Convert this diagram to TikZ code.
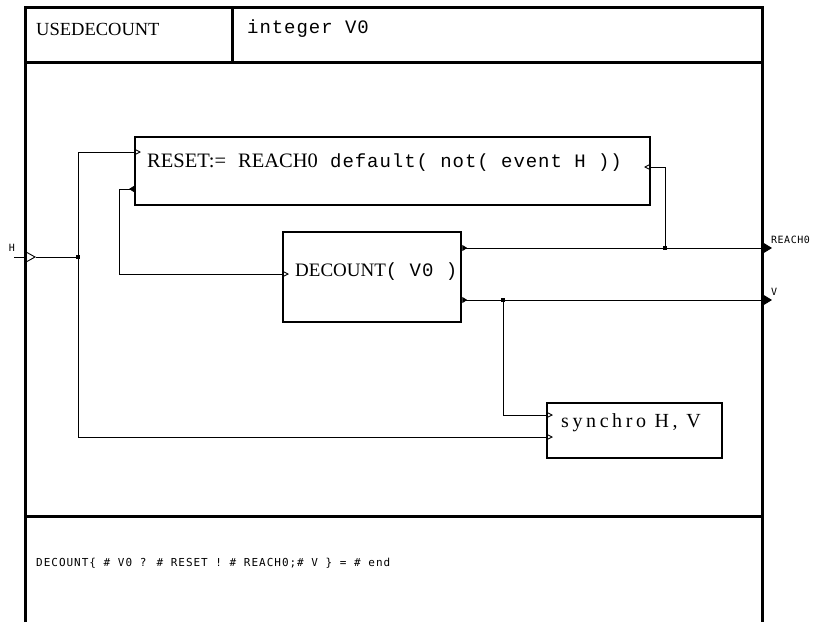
\documentclass[tikz,border=0pt]{standalone}
\usepackage{fontspec}
\setmainfont{Liberation Serif}
\newfontfamily\codefont[LetterSpace=5]{Liberation Mono}
\newfontfamily\wideserif[LetterSpace=18]{Liberation Serif}
\newfontfamily\pinfont[LetterSpace=5]{DejaVu Sans Mono}
\newfontfamily\ifacefont[LetterSpace=9]{DejaVu Sans Mono}
\usetikzlibrary{arrows.meta}
\tikzset{
    frame/.style={line width=3pt},
    block/.style={draw, line width=2.5pt, inner sep=0pt},
    txt/.style={anchor=west, inner sep=0pt},
    wire/.style={line width=0.9pt},
    dot/.style={fill, inner sep=0pt, minimum size=3.5pt},
    sig/.style={wire, -{Triangle[open, length=6pt, width=6pt]}},
    emit/.style={wire, {Triangle[reversed, length=5pt, width=6pt]}-{Triangle[length=10pt, width=12pt]}},
    loop/.style={wire, {Triangle[reversed, length=5pt, width=6pt]}-{Triangle[open, length=6pt, width=6pt]}},
}
\begin{document}
\begin{tikzpicture}[x=1pt, y=-1pt]
    \useasboundingbox (0,0) rectangle (814,622);
    \draw[frame] (25,622) -- (25,7) -- (762,7) -- (762,622);
    \draw[frame] (25,62) -- (762,62);
    \draw[frame] (232,7) -- (232,62);
    \draw[frame] (25,516) -- (762,516);
    \node[txt, font=\fontsize{18.5}{18.5}\selectfont] (name) at (36,29) {USEDECOUNT};
    \node[txt, font=\codefont\fontsize{19}{19}\selectfont] (params) at (247,29) {integer V0};
    \node[block, minimum width=515, minimum height=68] (reset) at (392.5,171) {};
    \node[block, minimum width=178, minimum height=90] (decount) at (372,277) {};
    \node[block, minimum width=175, minimum height=55] (synchro) at (634.5,430.5) {};
    \node[txt, font=\fontsize{20.5}{20.5}\selectfont] (resetdef) at (147,163)
        {RESET:=\hspace{12pt}REACH0{\codefont\fontsize{19}{19}\selectfont\ default( not( event H ))}};
    \node[txt, font=\fontsize{19}{19}\selectfont] (decdef) at (295,272)
        {DECOUNT{\codefont\fontsize{19}{19}\selectfont( V0 )}};
    \node[txt, font=\wideserif\fontsize{20}{20}\selectfont] (syncdef) at (561,423) {synchro H, V};
    \coordinate (hpin) at (14,257);
    \coordinate (hport) at (36,257);
    \coordinate (resetclk) at (141,152);
    \coordinate (syncclk) at (553,437);
    \coordinate (resetout) at (134,189);
    \coordinate (decin) at (289,274);
    \coordinate (reachfb) at (644,167);
    \coordinate (syncv) at (553,415);
    \coordinate (reachpin) at (772,248);
    \coordinate (vpin) at (772,300);
    \node[dot] (hj) at (78,257) {};
    \node[dot] (rj) at (665,248) {};
    \node[dot] (vj) at (503,300) {};
    \draw[wire, -{Triangle[open, length=11pt, width=12pt]}] (hpin) -- (hport);
    \draw[wire] (hport) -- (hj);
    \draw[sig] (hj) |- (resetclk);
    \draw[sig] (hj) |- (syncclk);
    \draw[loop] (resetout) -| (119,274) -- (decin);
    \draw[emit] (decount.east |- rj) -- (reachpin);
    \draw[emit] (decount.east |- vj) -- (vpin);
    \draw[sig] (rj) |- (reachfb);
    \draw[sig] (vj) |- (syncv);
    \node[font=\pinfont\fontsize{10}{10}\selectfont] (hlabel) at (12,248) {H};
    \node[txt, font=\pinfont\fontsize{10}{10}\selectfont] (reachlabel) at (771,240) {REACH0};
    \node[txt, font=\pinfont\fontsize{10}{10}\selectfont] (vlabel) at (771,292) {V};
    \node[txt, font=\ifacefont\fontsize{11}{11}\selectfont] (iface) at (36,563)
        {DECOUNT\{ \# V0 ? \# RESET ! \# REACH0;\# V \} = \# end};
\end{tikzpicture}
\end{document}
